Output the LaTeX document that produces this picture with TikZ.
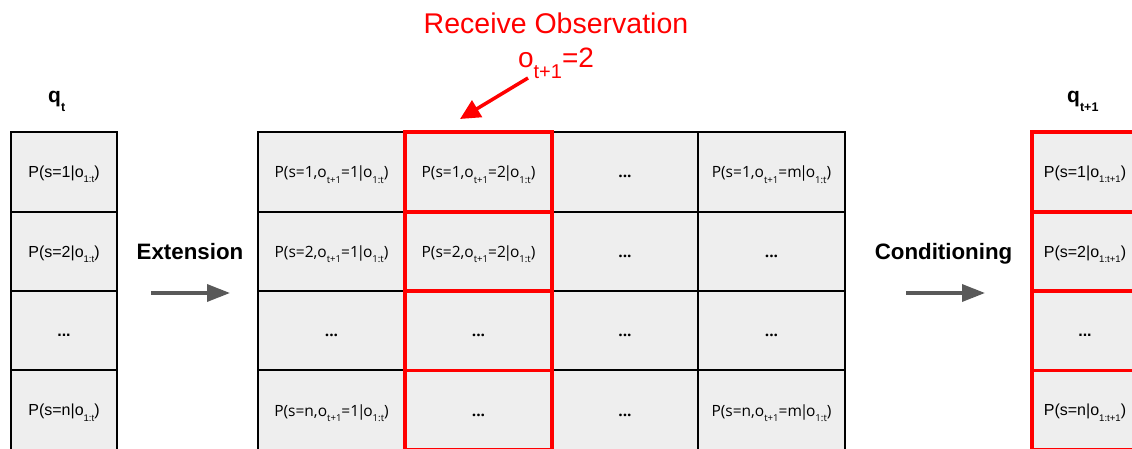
\documentclass[tikz,border=0pt]{standalone}
\usepackage{fontspec}
\setmainfont{Liberation Sans}
\newfontfamily\cellfam{Open Sans}
\usetikzlibrary{arrows.meta}
\definecolor{cellgray}{HTML}{EEEEEE}
\definecolor{arrowgray}{HTML}{595959}
\definecolor{obsred}{HTML}{FF0000}
\newcommand{\lo}[1]{\raisebox{-5.5pt}{\fontsize{9.6}{10}\selectfont #1}}
\newcommand{\blo}[1]{\raisebox{-9pt}{\fontsize{12.5}{13}\selectfont\bfseries #1}}
\newcommand{\rlo}[1]{\raisebox{-11pt}{\fontsize{20}{21}\selectfont #1}}
\newcommand{\celldots}{{\bfseries ...}}
\newcommand{\vb}{\kern-2.2pt|\kern-2.2pt}
\tikzset{
  cell/.style={draw=black, line width=2pt, fill=cellgray, minimum width=147pt,
    minimum height=79.3pt, inner sep=0pt, text height=12pt, text depth=0pt,
    font=\cellfam\fontsize{15.5}{17}\selectfont},
  narrow/.style={cell, minimum width=106pt, text height=11pt, font=\fontsize{16}{18}\selectfont},
  redcell/.style={cell, draw=obsred, line width=3.8pt},
  rednarrow/.style={narrow, draw=obsred, line width=3.8pt},
  title/.style={font=\fontsize{21}{26}\selectfont\bfseries, inner sep=0pt, anchor=base west},
  opname/.style={font=\fontsize{22.3}{26}\selectfont\bfseries, inner sep=0pt, anchor=base},
  grayarrow/.style={draw=arrowgray, line width=3.5pt, -{Triangle[length=23pt,width=17pt]}},
  redarrow/.style={draw=obsred, line width=3.5pt, -{Triangle[length=20pt,width=19pt]}},
  redtext/.style={text=obsred, inner sep=0pt, anchor=base},
}
\begin{document}
\begin{tikzpicture}[x=1pt,y=-1pt]
\useasboundingbox (0,0) rectangle (1132,449);
\clip (0,0) rectangle (1132,449);
% left column
\node[narrow] (l1) at (64,172) {P(s=1|o\lo{1:t})};
\node[narrow] (l2) at (64,251.5) {P(s=2|o\lo{1:t})};
\node[narrow] (l3) at (64,330.8) {\celldots};
\node[narrow] (l4) at (64,410.1) {P(s=n|o\lo{1:t})};
\node[title] (qt) at (48,103) {q\blo{t}};
% middle grid
\node[cell] (m11) at (331.5,172) {P(s=1,o\lo{t+1}=1\vb o\lo{1:t})};
\node[cell] (m21) at (331.5,251.5) {P(s=2,o\lo{t+1}=1\vb o\lo{1:t})};
\node[cell] (m31) at (331.5,330.8) {\celldots};
\node[cell] (m41) at (331.5,410.1) {P(s=n,o\lo{t+1}=1\vb o\lo{1:t})};
\node[cell] (m13) at (625,172) {\celldots};
\node[cell] (m23) at (625,251.5) {\celldots};
\node[cell] (m33) at (625,330.8) {\celldots};
\node[cell] (m43) at (625,410.1) {\celldots};
\node[cell] (m14) at (771.5,172) {P(s=1,o\lo{t+1}=m\vb o\lo{1:t})};
\node[cell] (m24) at (771.5,251.5) {\celldots};
\node[cell] (m34) at (771.5,330.8) {\celldots};
\node[cell] (m44) at (771.5,410.1) {P(s=n,o\lo{t+1}=m\vb o\lo{1:t})};
% red column
\node[redcell] (m12) at (478.5,172) {P(s=1,o\lo{t+1}=2\vb o\lo{1:t})};
\node[redcell] (m22) at (478.5,251.5) {P(s=2,o\lo{t+1}=2\vb o\lo{1:t})};
\node[redcell] (m32) at (478.5,330.8) {\celldots};
\node[redcell] (m42) at (478.5,410.1) {\celldots};
% right column
\node[rednarrow] (r1) at (1085,172) {P(s=1|o\lo{1:t+1})};
\node[rednarrow] (r2) at (1085,251.5) {P(s=2|o\lo{1:t+1})};
\node[rednarrow] (r3) at (1085,330.8) {\celldots};
\node[rednarrow] (r4) at (1085,410.1) {P(s=n|o\lo{1:t+1})};
\node[title] (qt1) at (1067,103) {q\blo{t+1}};
% operations
\node[opname] (ext) at (190,259) {Extension};
\coordinate (e1) at (151,293);
\coordinate (e2) at (230,293);
\draw[grayarrow] (e1) -- (e2);
\node[opname] (cond) at (943.5,259) {Conditioning};
\coordinate (c1) at (906,293);
\coordinate (c2) at (985,293);
\draw[grayarrow] (c1) -- (c2);
% observation
\node[redtext, font=\fontsize{28.5}{32}\selectfont] (recv) at (556,34) {Receive Observation};
\node[redtext, font=\fontsize{28}{32}\selectfont] (obs) at (556,68) {o\rlo{t+1}=2};
\coordinate (a1) at (528,78);
\coordinate (a2) at (460,119);
\draw[redarrow] (a1) -- (a2);
\end{tikzpicture}
\end{document}
